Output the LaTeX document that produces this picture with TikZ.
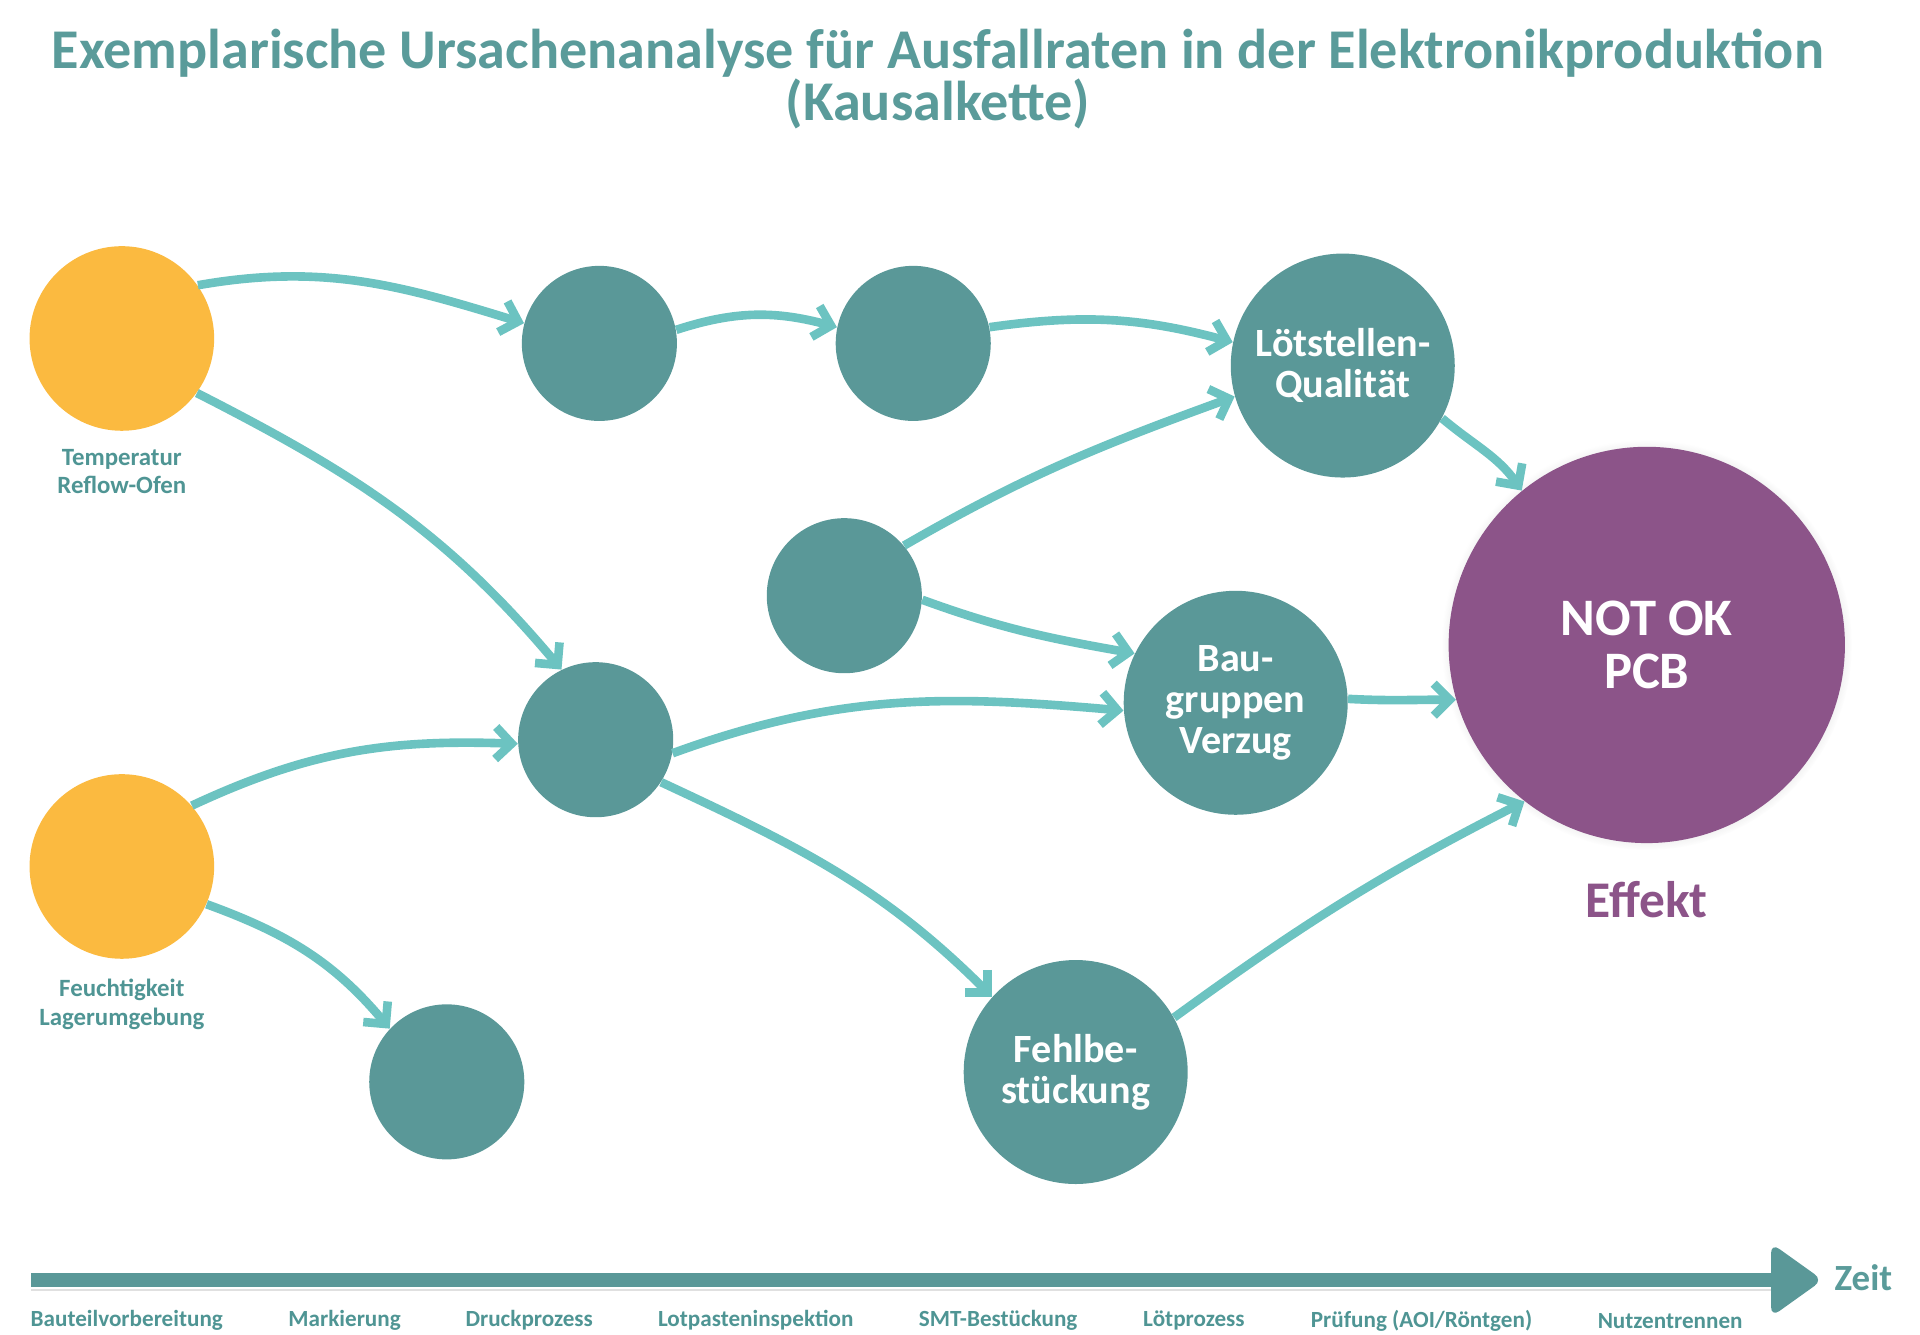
\documentclass[tikz,border=0pt]{standalone}
\usepackage{fontspec}
\setmainfont{Carlito}
\usetikzlibrary{arrows.meta,shadows}
\definecolor{corange}{HTML}{FBBA40}
\definecolor{cteal}{HTML}{5A9898}
\definecolor{carrow}{HTML}{6CC3C1}
\definecolor{cpurple}{HTML}{8C5489}
\definecolor{ctitle}{HTML}{5A9B9A}
\definecolor{clabel}{HTML}{4F9594}
\begin{document}
\begin{tikzpicture}[x=0.5pt,y=0.5pt,
  cause/.style={circle, fill=corange, minimum size=75pt, inner sep=0pt},
  midc/.style={circle, fill=cteal, minimum size=63pt, inner sep=0pt},
  bigc/.style={circle, fill=cteal, minimum size=91pt, inner sep=0pt, text=white,
    font=\bfseries\fontsize{16.3}{16.8}\selectfont, align=center},
  effc/.style={circle, fill=cpurple, minimum size=161pt, inner sep=0pt, text=white,
    font=\bfseries\fontsize{21.4}{21.5}\selectfont, align=center,
    circular drop shadow={shadow xshift=0pt, shadow yshift=0pt, shadow scale=1.035, opacity=0.35}},
  smalllab/.style={text=clabel, font=\bfseries\fontsize{10.1}{11.5}\selectfont, align=center},
  steplab/.style={text=clabel, font=\bfseries\fontsize{9.4}{10}\selectfont},
  conn/.style={draw=carrow, line width=3.5pt, -{Straight Barb[length=6.5pt,width=13pt]}}
]
\useasboundingbox (0,0) rectangle (1560,-1084);

% title
\node[text=ctitle, font=\bfseries\fontsize{22.8}{21}\selectfont, align=center] (title) at (762,-64)
  {Exemplarische Ursachenanalyse für Ausfallraten in der Elektronikproduktion\\(Kausalkette)};

% nodes
\node[cause] (T) at (99,-275) {};
\node[cause] (F) at (99,-704) {};
\node[smalllab] (tlab) at (99,-383) {Temperatur\\Reflow-Ofen};
\node[smalllab] (flab) at (99,-816) {Feuchtigkeit\\Lagerumgebung};

\node[midc] (A1) at (487,-279) {};
\node[midc] (A2) at (742,-279) {};
\node[midc] (B) at (686,-484) {};
\node[midc] (C) at (484,-601) {};
\node[midc] (D) at (363,-879) {};

\node[bigc] (L) at (1091,-297) {Lötstellen-\\Qualität};
\node[bigc] (V) at (1004,-571) {Bau-\\gruppen\\Verzug};
\node[bigc] (FB) at (874,-871) {Fehlbe-\\stückung};

\node[effc] (N) at (1338,-524) {NOT OK\\PCB};
\node[text=cpurple, font=\bfseries\fontsize{20.9}{21}\selectfont] (eff) at (1338,-731) {Effekt};

% connectors
\draw[conn] (T.35) to[out=10,in=163] (A1.165);
\draw[conn] (T.-36) to[out=-27,in=130] (C.116);
\draw[conn] (A1.10) to[out=18,in=165] (A2.168);
\draw[conn] (A2.12) to[out=8,in=165] (L.168);
\draw[conn] (B.40) to[out=30,in=200] (L.196);
\draw[conn] (B.-3) to[out=-20,in=170] (V.154);
\draw[conn] (C.-10) to[out=20,in=175] (V.184);
\draw[conn] (F.41) to[out=25,in=178] (C.183);
\draw[conn] (C.-33) to[out=-25,in=135] (FB.138);
\draw[conn] (F.-24) to[out=-20,in=130] (D.137);
\draw[conn] (L.-28) to[out=-40,in=125] (N.129);
\draw[conn] (V.2) to[out=-3,in=180] (N.196);
\draw[conn] (FB.29) to[out=36,in=207] (N.232);

% timeline
\fill[black!12] (25,-1047) rectangle (1442,-1049);
\fill[cteal] (25,-1034) rectangle (1442,-1046);
\fill[cteal, rounded corners=4pt] (1439,-1010) -- (1481,-1040) -- (1439,-1070) -- cycle;
\node[text=ctitle, font=\bfseries\fontsize{15}{16}\selectfont] (zeit) at (1514,-1038) {Zeit};

\node[steplab] (s1) at (103,-1073) {Bauteilvorbereitung};
\node[steplab] (s2) at (280,-1073) {Markierung};
\node[steplab] (s3) at (430,-1073) {Druckprozess};
\node[steplab] (s4) at (614,-1073) {Lotpasteninspektion};
\node[steplab] (s5) at (811,-1073) {SMT-Bestückung};
\node[steplab] (s6) at (970,-1073) {Lötprozess};
\node[steplab] (s7) at (1155,-1073) {Prüfung (AOI/Röntgen)};
\node[steplab] (s8) at (1357,-1073) {Nutzentrennen};
\end{tikzpicture}
\end{document}
